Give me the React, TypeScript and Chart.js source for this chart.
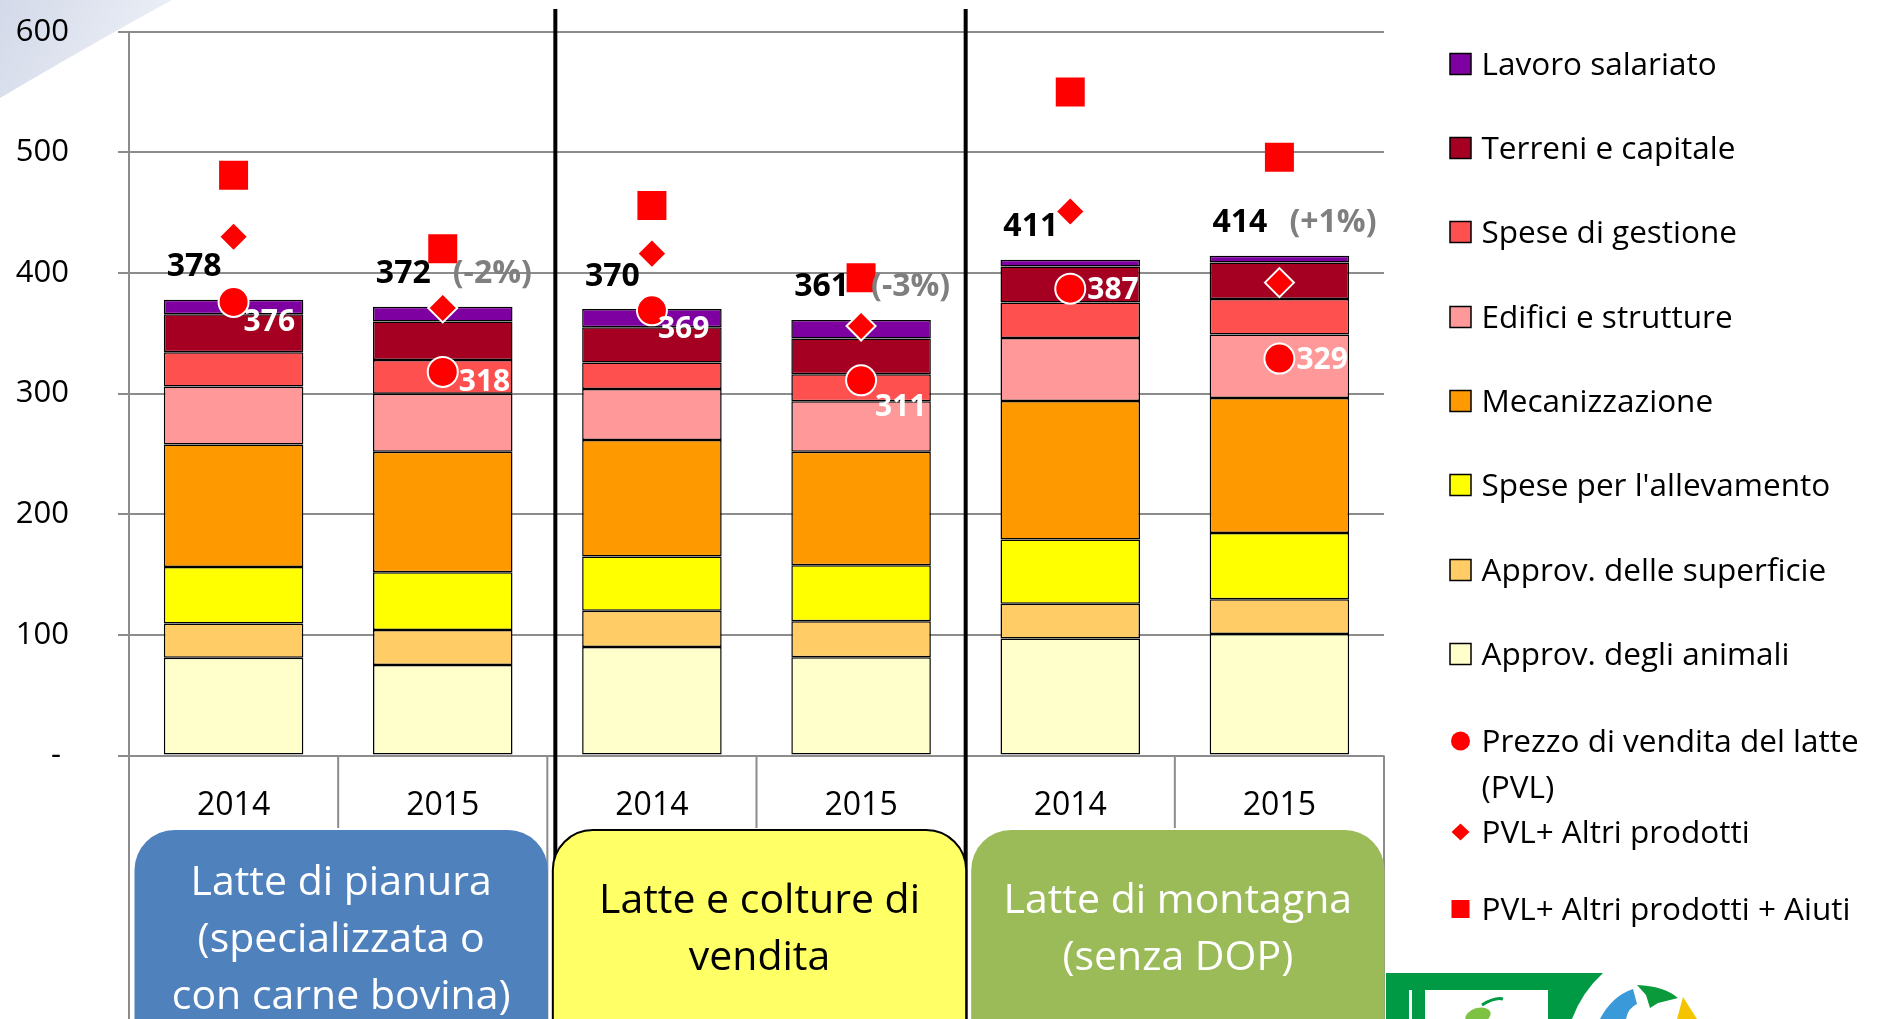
import React, { useEffect, useRef } from 'react';
import { Chart, registerables } from 'chart.js';

Chart.register(...registerables);

const W = 1877;
const H = 1019;
const FONT = '"Open Sans", sans-serif';

// ---------- data ----------
const categories = ['2014', '2015', '2014', '2015', '2014', '2015'];
const groupLabels = [
  ['Latte di pianura', '(specializzata o', 'con carne bovina)'],
  ['Latte e colture di', 'vendita'],
  ['Latte di montagna', '(senza DOP)'],
];
const yTicks = [0, 100, 200, 300, 400, 500, 600];

const approvAnimali = [81, 75, 90, 81.4, 97, 100.7];
const approvSuperficie = [28.5, 29, 30, 29.9, 28.7, 28.8];
const speseAllevamento = [46.7, 48, 45, 46.4, 53.4, 55];
const meccanizzazione = [101.7, 99.8, 96.5, 94, 114.7, 111.9];
const edifici = [48, 48, 42.3, 42, 52.2, 52.6];
const speseGestione = [28.3, 28, 22, 22.3, 29.6, 29.5];
const terreni = [31.5, 32, 29.3, 29.6, 29.8, 30.1];
const lavoro = [12.2, 12.2, 15, 15.5, 5.6, 5.6];

const totals = [378, 372, 370, 361, 411, 414];
const changes = ['', '(-2%)', '', '(-3%)', '', '(+1%)'];

const pvl = [376, 318, 369, 311, 387, 329];
const pvlAltri = [430, 371, 416, 356, 451, 392];
const pvlAltriAiuti = [481, 420, 456, 396, 550, 496];

// ---------- styles / layout ----------
const costSeries = [
  { label: 'Approv. degli animali', data: approvAnimali, color: '#FFFFCC' },
  { label: 'Approv. delle superficie', data: approvSuperficie, color: '#FFCC66' },
  { label: "Spese per l'allevamento", data: speseAllevamento, color: '#FFFF00' },
  { label: 'Mecanizzazione', data: meccanizzazione, color: '#FF9900' },
  { label: 'Edifici e strutture', data: edifici, color: '#FF9999' },
  { label: 'Spese di gestione', data: speseGestione, color: '#FF5050' },
  { label: 'Terreni e capitale', data: terreni, color: '#A50021' },
  { label: 'Lavoro salariato', data: lavoro, color: '#7F00A0' },
];
const boxColors = ['#4F81BD', '#FFFF66', '#9BBB59'];
const boxText = ['#FFFFFF', '#000000', '#FFFFFF'];
const pvlLabelOffset = [[10, 18], [16, 8], [6, 17], [14, 25], [17, 0], [17, 0]];
const legendY = [64, 148, 232, 317, 401, 485, 570, 654, 741, 832, 909];
const dividerShift = [8, 0];

const overlay = {
  id: 'overlay',
  beforeDraw(chart: any) {
    const ctx = chart.ctx as CanvasRenderingContext2D;
    ctx.save();
    ctx.fillStyle = '#ffffff';
    ctx.fillRect(0, 0, W, H);
    const g = ctx.createLinearGradient(0, 0, 160, 80);
    g.addColorStop(0, '#d3d9e9');
    g.addColorStop(1, '#eef1f7');
    ctx.fillStyle = g;
    ctx.beginPath();
    ctx.moveTo(0, 0);
    ctx.lineTo(172, 0);
    ctx.quadraticCurveTo(95, 42, 0, 98);
    ctx.closePath();
    ctx.fill();
    ctx.restore();
  },
  afterDatasetsDraw(chart: any) {
    const ctx = chart.ctx as CanvasRenderingContext2D;
    const xs = chart.scales.x;
    const ys = chart.scales.y;
    ctx.save();
    ctx.textBaseline = 'alphabetic';
    for (let i = 0; i < categories.length; i++) {
      const x = xs.getPixelForValue(i);
      const top = ys.getPixelForValue(totals[i]);
      ctx.font = `bold 32px ${FONT}`;
      ctx.fillStyle = '#000';
      ctx.textAlign = 'right';
      ctx.fillText(String(totals[i]), x - 12, top - 23.6);
      if (changes[i]) {
        ctx.textAlign = 'left';
        ctx.fillStyle = '#7F7F7F';
        ctx.fillText(changes[i], x + 10, top - 23.6);
      }
      const cy = ys.getPixelForValue(pvl[i]);
      ctx.font = `bold 30px ${FONT}`;
      ctx.fillStyle = '#fff';
      ctx.textAlign = 'left';
      ctx.fillText(String(pvl[i]), x + pvlLabelOffset[i][0], cy + pvlLabelOffset[i][1] + 10.7);
    }
    ctx.restore();
  },
  afterDraw(chart: any) {
    const ctx = chart.ctx as CanvasRenderingContext2D;
    const { left, right, bottom } = chart.chartArea;
    const xs = chart.scales.x;
    const cw = (right - left) / categories.length;
    ctx.save();
    // category separators below axis
    ctx.strokeStyle = '#8c8c8c';
    ctx.lineWidth = 2;
    for (let k = 0; k <= categories.length; k++) {
      const x = left + k * cw;
      ctx.beginPath();
      ctx.moveTo(x, bottom);
      ctx.lineTo(x, k % 2 === 0 ? H : 828);
      ctx.stroke();
    }
    // x labels
    ctx.fillStyle = '#000';
    ctx.font = `32px ${FONT}`;
    ctx.textAlign = 'center';
    ctx.textBaseline = 'alphabetic';
    for (let i = 0; i < categories.length; i++) {
      ctx.fillText(categories[i], xs.getPixelForValue(i), 815);
    }
    // black group dividers
    ctx.strokeStyle = '#000';
    ctx.lineWidth = 4;
    [2, 4].forEach((k, j) => {
      const x = left + k * cw + dividerShift[j];
      ctx.beginPath();
      ctx.moveTo(x, 9);
      ctx.lineTo(x, H);
      ctx.stroke();
    });
    // group boxes
    for (let g = 0; g < 3; g++) {
      const x0 = left + 2 * g * cw + 5.5;
      const x1 = left + (2 * g + 2) * cw + 0.5;
      ctx.beginPath();
      (ctx as any).roundRect(x0, 830, x1 - x0, 260, 40);
      ctx.fillStyle = boxColors[g];
      ctx.fill();
      if (g === 1) {
        ctx.strokeStyle = '#000';
        ctx.lineWidth = 2;
        ctx.stroke();
      }
      ctx.fillStyle = boxText[g];
      ctx.font = `41px ${FONT}`;
      ctx.textAlign = 'center';
      const lines = groupLabels[g];
      const first = lines.length === 3 ? 894.6 : 912.6;
      lines.forEach((t, li) => ctx.fillText(t, (x0 + x1) / 2, first + li * 57));
    }
    // legend
    const items: any[] = [];
    for (let i = costSeries.length - 1; i >= 0; i--) items.push({ kind: 'box', color: costSeries[i].color, label: costSeries[i].label });
    const pts = chart.data.datasets.filter((d: any) => d.type === 'line');
    pts.forEach((d: any) => items.push({ kind: d.pointStyle, color: '#FF0000', label: d.label }));
    ctx.font = `31.5px ${FONT}`;
    ctx.textAlign = 'left';
    const mx = 1460.5;
    const tx = 1481.5;
    items.forEach((it, i) => {
      const y = legendY[i];
      ctx.fillStyle = it.color;
      if (it.kind === 'box') {
        ctx.fillRect(mx - 10.5, y - 10.5, 21, 21);
        ctx.strokeStyle = '#000';
        ctx.lineWidth = 1.5;
        ctx.strokeRect(mx - 10.5, y - 10.5, 21, 21);
      } else if (it.kind === 'circle') {
        ctx.beginPath();
        ctx.arc(mx, y, 9.5, 0, Math.PI * 2);
        ctx.fill();
      } else if (it.kind === 'rectRot') {
        ctx.beginPath();
        ctx.moveTo(mx - 9, y);
        ctx.lineTo(mx, y - 8.5);
        ctx.lineTo(mx + 9, y);
        ctx.lineTo(mx, y + 8.5);
        ctx.closePath();
        ctx.fill();
      } else {
        ctx.fillRect(mx - 9, y - 9, 18, 18);
      }
      ctx.fillStyle = '#000';
      const words = it.label.split(' ');
      const out: string[] = [];
      let cur = '';
      words.forEach((w: string) => {
        const test = cur ? cur + ' ' + w : w;
        if (cur && ctx.measureText(test).width > W - tx) {
          out.push(cur);
          cur = w;
        } else cur = test;
      });
      out.push(cur);
      out.forEach((t, li) => ctx.fillText(t, tx, y + 11.2 + li * 46));
    });
    // logo fragment (bottom right)
    ctx.fillStyle = '#009A44';
    ctx.beginPath();
    ctx.moveTo(1386, 973);
    ctx.lineTo(1603, 973);
    ctx.quadraticCurveTo(1582, 992, 1572, 1019);
    ctx.lineTo(1386, 1019);
    ctx.closePath();
    ctx.fill();
    ctx.fillStyle = '#fff';
    ctx.fillRect(1425, 990, 123, 29);
    ctx.fillRect(1409, 990, 3, 29);
    ctx.fillStyle = '#7DC242';
    ctx.beginPath();
    ctx.ellipse(1478, 1016, 13, 8, -0.3, 0, Math.PI * 2);
    ctx.fill();
    ctx.strokeStyle = '#009A44';
    ctx.lineWidth = 3;
    ctx.beginPath();
    ctx.moveTo(1482, 1005);
    ctx.quadraticCurveTo(1495, 997, 1503, 999);
    ctx.stroke();
    ctx.fillStyle = '#3A9AD9';
    ctx.beginPath();
    ctx.moveTo(1600, 1019);
    ctx.quadraticCurveTo(1612, 996, 1633, 989);
    ctx.lineTo(1637, 1004);
    ctx.quadraticCurveTo(1628, 1008, 1626, 1019);
    ctx.closePath();
    ctx.fill();
    ctx.fillStyle = '#0A9A3C';
    ctx.beginPath();
    ctx.moveTo(1637, 985);
    ctx.quadraticCurveTo(1664, 986, 1678, 998);
    ctx.lineTo(1658, 1003);
    ctx.lineTo(1650, 1008);
    ctx.lineTo(1646, 995);
    ctx.closePath();
    ctx.fill();
    ctx.fillStyle = '#F5C400';
    ctx.beginPath();
    ctx.moveTo(1683, 997);
    ctx.lineTo(1697, 1019);
    ctx.lineTo(1677, 1019);
    ctx.closePath();
    ctx.fill();
    ctx.restore();
  },
};

export default function App() {
  const ref = useRef<HTMLCanvasElement>(null);
  useEffect(() => {
    document.body.style.margin = '0';
    const canvas = ref.current!;
    const barSets = costSeries.map((s) => ({
      type: 'bar' as const,
      label: s.label,
      data: s.data,
      backgroundColor: s.color,
      borderColor: '#000',
      borderWidth: 1.5,
      borderSkipped: false as any,
      barPercentage: 0.667,
      categoryPercentage: 1,
      stack: 'cost',
      order: 2,
    }));
    const pointSets = [
      { label: 'Prezzo di vendita del latte (PVL)', data: pvl, pointStyle: 'circle', pointRadius: 15, pointBorderWidth: 2, stack: 'p1' },
      { label: 'PVL+ Altri prodotti', data: pvlAltri, pointStyle: 'rectRot', pointRadius: 14.5, pointBorderWidth: 2, stack: 'p2' },
      { label: 'PVL+ Altri prodotti + Aiuti', data: pvlAltriAiuti, pointStyle: 'rect', pointRadius: 20.5, pointBorderWidth: 0, stack: 'p3' },
    ].map((p) => ({
      type: 'line' as const,
      ...p,
      showLine: false,
      pointBackgroundColor: '#FF0000',
      pointBorderColor: '#FFFFFF',
      pointHoverRadius: p.pointRadius,
      order: 0,
    }));
    const chart = new Chart(canvas, {
      type: 'bar',
      data: { labels: categories, datasets: [...barSets, ...pointSets] as any },
      options: {
        responsive: false,
        animation: false,
        events: [],
        layout: { padding: { top: 31.7, right: W - 1384, left: 0, bottom: 0 } },
        plugins: { legend: { display: false }, tooltip: { enabled: false } },
        scales: {
          x: {
            stacked: true,
            grid: { display: false, drawTicks: false },
            border: { display: false },
            ticks: { display: false },
            afterFit: (s: any) => { s.height = H - 755.5; s.paddingLeft = 0; s.paddingRight = 0; },
          },
          y: {
            stacked: true,
            min: 0,
            max: 600,
            afterBuildTicks: (s: any) => { s.ticks = yTicks.map((v) => ({ value: v })); },
            grid: { color: '#8c8c8c', lineWidth: 2, tickLength: 11, drawTicks: true },
            border: { display: true, color: '#8c8c8c', width: 2 },
            ticks: {
              font: { family: FONT, size: 31 },
              color: '#000',
              padding: 49,
              callback: (v: any) => (Number(v) === 0 ? '- ' : String(v)),
            },
            afterFit: (s: any) => { s.width = 129; s.paddingTop = 0; s.paddingBottom = 0; },
          },
        },
      } as any,
      plugins: [overlay],
    });
    return () => chart.destroy();
  }, []);
  return <canvas ref={ref} width={W} height={H} style={{ display: 'block', width: W, height: H }} />;
}
